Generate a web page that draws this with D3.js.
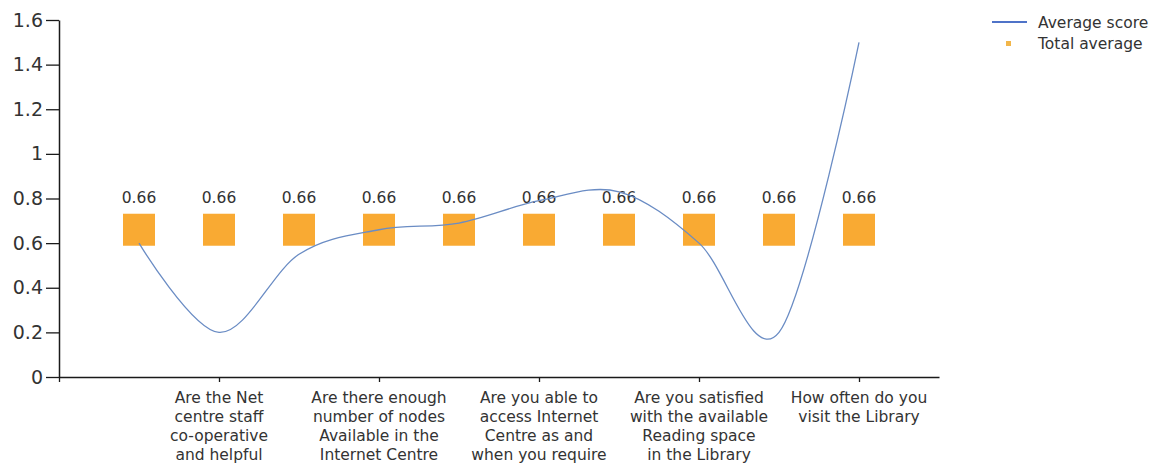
<!DOCTYPE html>
<html>
<head>
<meta charset="utf-8">
<script src="https://cdn.jsdelivr.net/npm/d3@7"></script>
<style>
  html, body { margin: 0; padding: 0; background: #fff; }
  svg { display: block; font-family: "DejaVu Sans", sans-serif; }
</style>
</head>
<body>
<svg id="chart" width="1166" height="465"></svg>
<script>
// ---- data ----
const categoryPositions = [1, 2, 3, 4, 5, 6, 7, 8, 9, 10];
const averageScore = [0.6, 0.2, 0.55, 0.66, 0.69, 0.79, 0.83, 0.6, 0.2, 1.5];
const totalAverage = [0.66, 0.66, 0.66, 0.66, 0.66, 0.66, 0.66, 0.66, 0.66, 0.66];
const xTickValues = [0, 2, 4, 6, 8, 10];
const xTickLabels = [
  "",
  "Are the Net\ncentre staff\nco-operative\nand helpful",
  "Are there enough\nnumber of nodes\nAvailable in the\nInternet Centre",
  "Are you able to\naccess Internet\nCentre as and\nwhen you require",
  "Are you satisfied\nwith the available\nReading space\nin the Library",
  "How often do you\nvisit the Library"
];
const yTickValues = [0, 0.2, 0.4, 0.6, 0.8, 1, 1.2, 1.4, 1.6];
const seriesNames = ["Average score", "Total average"];

// ---- layout ----
const svg = d3.select("#chart");
const x = d3.scaleLinear().domain([0, 11]).range([59, 939]);
const y = d3.scaleLinear().domain([0, 1.6]).range([377, 20]);
const textColor = "#333";
const axisColor = "#1a1a1a";
const orange = "#F9AA33";
const blue = "#6A8CC4";

// y axis
const yAxis = svg.append("g")
  .attr("transform", `translate(${x(0)},0)`)
  .call(d3.axisLeft(y).tickValues(yTickValues).tickSize(13).tickSizeOuter(0).tickPadding(3)
    .tickFormat(d => String(d)));
yAxis.select(".domain").attr("stroke", axisColor).attr("stroke-width", 1.5);
yAxis.selectAll(".tick line").attr("stroke", axisColor).attr("stroke-width", 1.3);
yAxis.selectAll(".tick text").attr("fill", textColor).style("font-size", "19px")
  .style("font-family", "DejaVu Sans, sans-serif");

// x axis
const xAxis = svg.append("g")
  .attr("transform", `translate(0,${y(0)})`)
  .call(d3.axisBottom(x).tickValues(xTickValues).tickSize(5).tickSizeOuter(0).tickFormat(""));
xAxis.select(".domain").attr("stroke", axisColor).attr("stroke-width", 1.5);
xAxis.selectAll(".tick line").attr("stroke", axisColor).attr("stroke-width", 1.3);

// x labels (multi-line)
const labelG = svg.append("g");
xTickValues.forEach((v, i) => {
  const lines = xTickLabels[i].split("\n").filter(s => s.length);
  const t = labelG.append("text")
    .attr("x", x(v)).attr("y", y(0) + 26)
    .attr("text-anchor", "middle")
    .attr("fill", textColor)
    .style("font-size", "15.5px");
  lines.forEach((ln, j) => {
    t.append("tspan").attr("x", x(v)).attr("dy", j === 0 ? 0 : 19).text(ln);
  });
});

// total average markers
const msize = 32;
svg.append("g").selectAll("rect")
  .data(categoryPositions.map((c, i) => ({ c, v: totalAverage[i] })))
  .join("rect")
  .attr("x", d => x(d.c) - msize / 2)
  .attr("y", d => y(d.v) - msize / 2)
  .attr("width", msize).attr("height", msize)
  .attr("fill", orange);

// value labels
svg.append("g").selectAll("text")
  .data(categoryPositions.map((c, i) => ({ c, v: totalAverage[i] })))
  .join("text")
  .attr("x", d => x(d.c))
  .attr("y", d => y(d.v) - 27)
  .attr("text-anchor", "middle")
  .attr("fill", textColor)
  .style("font-size", "15.5px")
  .text(d => d.v.toFixed(2));

// average score spline
const line = d3.line()
  .x((d, i) => x(categoryPositions[i]))
  .y(d => y(d))
  .curve(d3.curveCardinal.tension(0));
svg.append("path")
  .datum(averageScore)
  .attr("d", line)
  .attr("fill", "none")
  .attr("stroke", blue)
  .attr("stroke-width", 1.3);

// legend
const lg = svg.append("g");
lg.append("line").attr("x1", 992).attr("x2", 1027).attr("y1", 22).attr("y2", 22)
  .attr("stroke", "#4F73C8").attr("stroke-width", 2);
lg.append("text").attr("x", 1038).attr("y", 28).attr("fill", textColor)
  .style("font-size", "15.5px").text(seriesNames[0]);
lg.append("rect").attr("x", 1006).attr("y", 41).attr("width", 5).attr("height", 5)
  .attr("fill", "#F2B64A");
lg.append("text").attr("x", 1038).attr("y", 49).attr("fill", textColor)
  .style("font-size", "15.5px").text(seriesNames[1]);
</script>
</body>
</html>
